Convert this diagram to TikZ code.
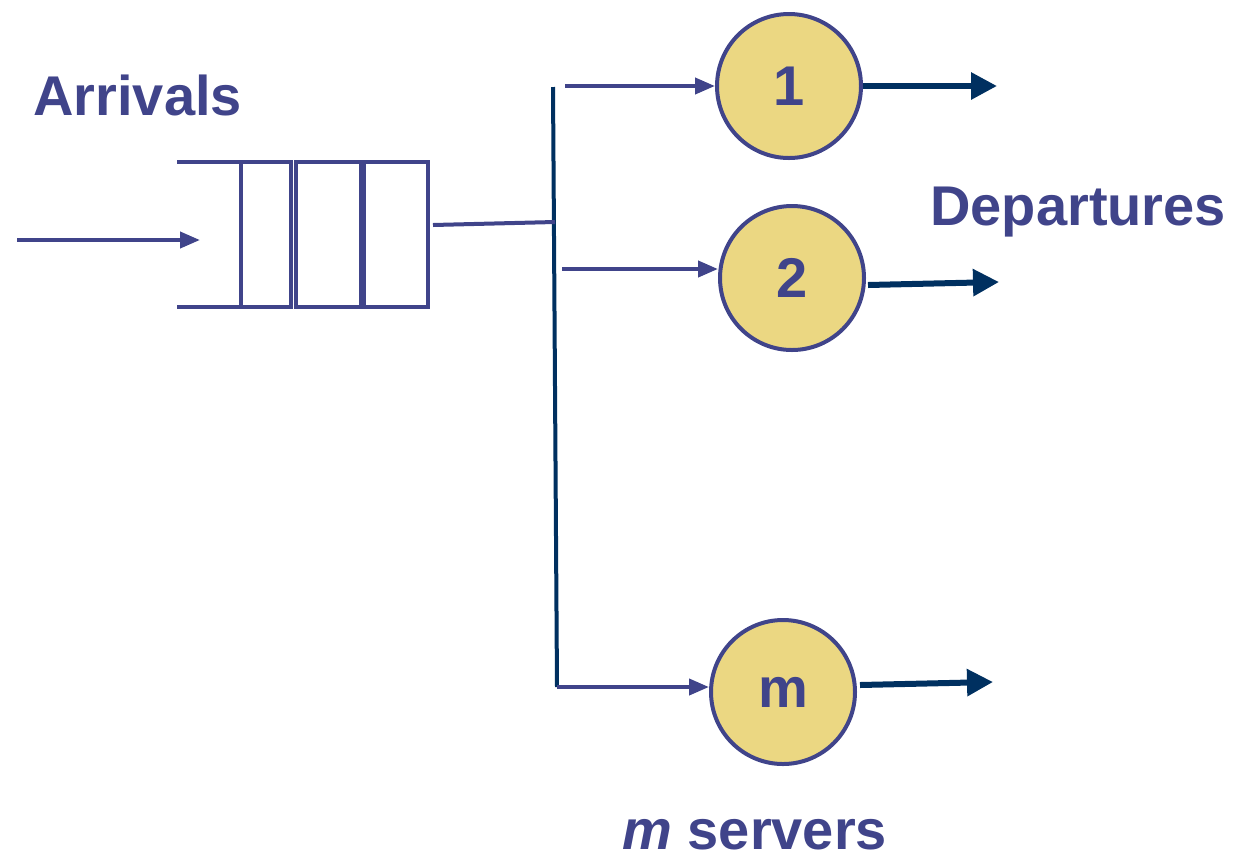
\documentclass[tikz,border=0pt]{standalone}
\usepackage{fontspec}
\setmainfont{Liberation Sans}
\usetikzlibrary{arrows.meta}
\definecolor{ink}{RGB}{64,68,138}
\definecolor{navy}{RGB}{0,48,96}
\definecolor{serverfill}{RGB}{235,215,130}
\tikzset{
  big/.style={font=\bfseries\fontsize{28}{34}\selectfont, text=ink, inner sep=0pt},
  server/.style={circle, draw=ink, line width=2pt, fill=serverfill, minimum size=72pt,
    inner sep=0pt, font=\bfseries\fontsize{28}{34}\selectfont, text=ink},
  cell/.style={draw=ink, line width=2pt, minimum height=72.5pt, inner sep=0pt, outer sep=0pt},
  feed/.style={draw=ink, line width=2pt, -{Triangle[length=10pt,width=8pt]}},
  depart/.style={draw=navy, line width=3pt, -{Triangle[length=13pt,width=13pt]}},
  wire/.style={draw=ink, line width=2pt},
}
\begin{document}
\begin{tikzpicture}[x=0.5pt,y=-0.5pt]
\useasboundingbox (0,0) rectangle (1237,858);

% queue cells
\node[cell, minimum width=25pt] (q1) at (266,234.5) {};
\node[cell, minimum width=32.5pt] (q2) at (328.5,234.5) {};
\node[cell, minimum width=32pt] (q3) at (396,234.5) {};
\coordinate (qtop) at (177,162);
\coordinate (qbot) at (177,307);
\draw[wire] (qtop) -- (q1.north west);
\draw[wire] (qbot) -- (q1.south west);

% arrivals
\node[big, anchor=base west] (arr) at (33,115) {Arrivals};
\coordinate (in) at (17,240);
\coordinate (inend) at (200,240);
\draw[feed] (in) -- (inend);

% servers
\node[server] (s1) at (789,86) {1};
\node[server] (s2) at (792,278) {2};
\node[server] (sm) at (783,692) {m};

% dispatcher bar
\coordinate (bartop) at (553,87);
\coordinate (barbot) at (557,687);
\coordinate (join) at (555,222);
\coordinate (qout) at (433,225);
\draw[navy, line width=2pt] (bartop) -- (barbot);
\draw[wire] (qout) -- (join);

% feeds into servers
\coordinate (f1) at (565,86);
\coordinate (f2) at (562,269);
\draw[feed] (f1) -- (s1.west);
\draw[feed] (f2) -- (s2.west |- f2);
\draw[feed] (barbot) -- (sm.west |- barbot);

% departures
\coordinate (d1) at (997,86);
\coordinate (d2) at (999,282);
\coordinate (dm) at (993,682);
\draw[depart] (s1.east) -- (d1);
\draw[depart] ([shift={(2,7)}]s2.east) -- (d2);
\draw[depart] ([shift={(3,-7)}]sm.east) -- (dm);

\node[big, anchor=base west] (dep) at (930,225) {Departures};
\node[big, anchor=base west] (ms) at (622,849) {\textit{m} servers};
\end{tikzpicture}
\end{document}
